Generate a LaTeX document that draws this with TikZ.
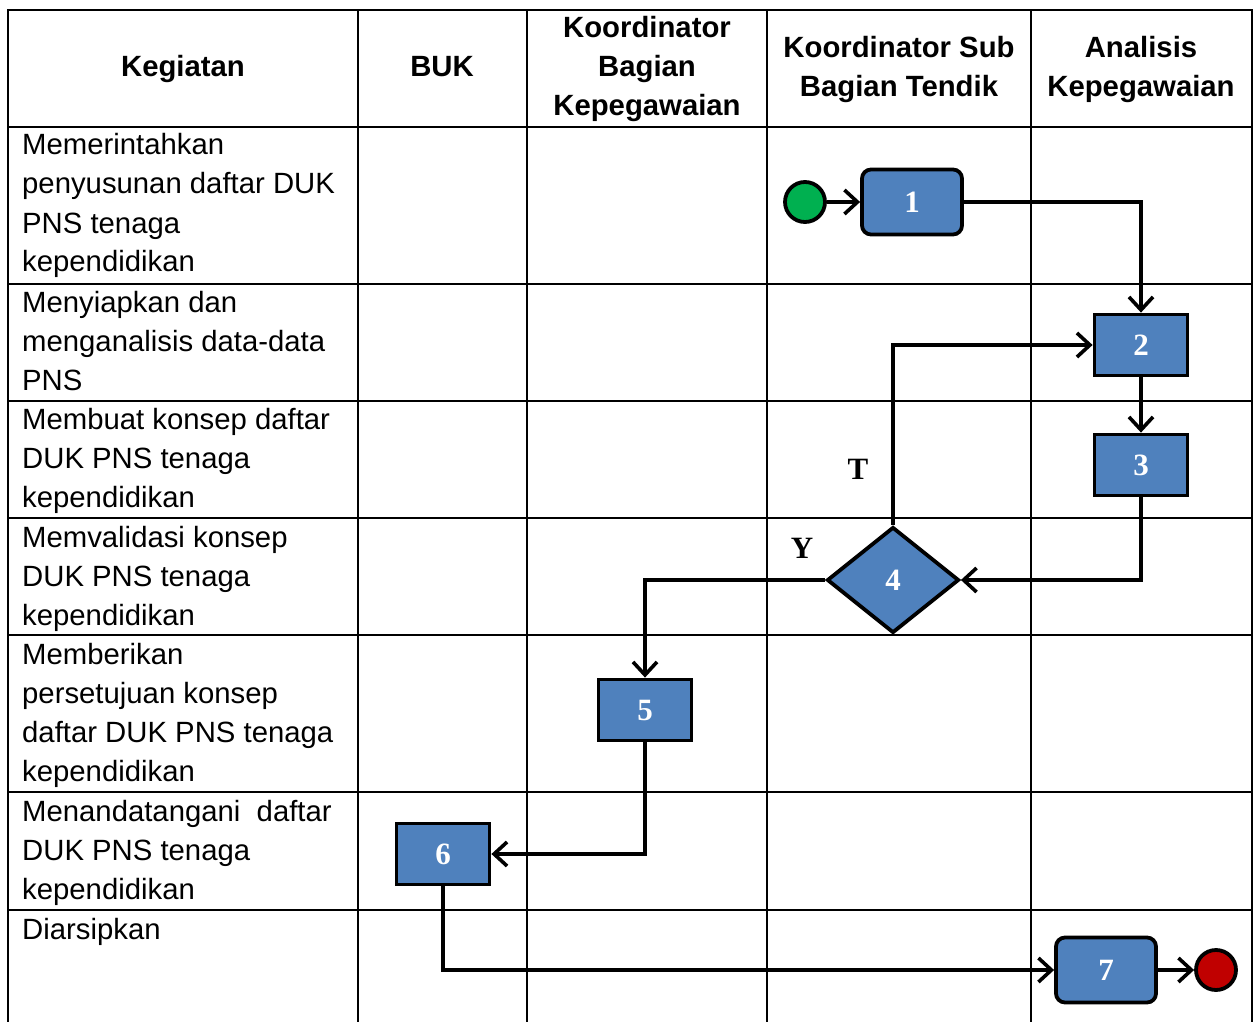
\documentclass[tikz,border=0pt]{standalone}
\usepackage{fontspec}
\setmainfont{Liberation Sans}
\newfontfamily\numfont{Liberation Serif}
\usetikzlibrary{arrows.meta,shapes.geometric}
\definecolor{boxblue}{HTML}{4F81BD}
\definecolor{startgreen}{HTML}{00B050}
\definecolor{endred}{HTML}{C00000}
\begin{document}
\begin{tikzpicture}[x=1pt,y=-1pt,
 grid/.style={line width=2.2pt},
 hdr/.style={font=\fontsize{29.3}{39}\selectfont\bfseries, align=center, inner sep=0},
 act/.style={anchor=base west, inner sep=0, font=\fontsize{29.3}{39}\selectfont},
 proc/.style={draw, line width=3.8pt, fill=boxblue, minimum width=93pt, minimum height=61pt, font=\numfont\fontsize{31}{31}\selectfont\bfseries, text=white, inner sep=0},
 rproc/.style={proc, rounded corners=9pt, minimum width=100pt, minimum height=65pt},
 dec/.style={diamond, draw, line width=3.8pt, fill=boxblue, minimum width=132pt, minimum height=106pt, shape aspect=1.245, inner sep=0, font=\numfont\fontsize{31}{31}\selectfont\bfseries, text=white},
 term/.style={circle, draw, line width=3.8pt, minimum size=40pt, inner sep=0},
 flow/.style={line width=3.6pt, -{Straight Barb[length=13pt,width=24pt]}},
 lbl/.style={font=\numfont\fontsize{31}{31}\selectfont\bfseries, inner sep=0}
]
\useasboundingbox (0,0) rectangle (1256,1022);
% table
\draw[grid] (8,1022) -- (8,10) -- (1252,10) -- (1252,1022);
\foreach \xx in {358,527,767,1031} \draw[grid] (\xx,10) -- (\xx,1022);
\foreach \yy in {127,284,401,518,635,792,910} \draw[grid] (8,\yy) -- (1252,\yy);
% headers
\node[hdr] (h1) at (183,69) {Kegiatan};
\node[hdr] (h2) at (442,67) {BUK};
\node[hdr] (h3) at (647,69) {Koordinator\\Bagian\\Kepegawaian};
\node[hdr] (h4) at (899,69) {Koordinator Sub\\Bagian Tendik};
\node[hdr] (h5) at (1141,69) {Analisis\\Kepegawaian};
% activities
\node[act] (a1) at (22,155) {\parbox[t]{345pt}{Memerintahkan\\penyusunan daftar DUK\\PNS tenaga\\kependidikan}};
\node[act] (a2) at (22,312) {\parbox[t]{345pt}{Menyiapkan dan\\menganalisis data-data\\PNS}};
\node[act] (a3) at (22,429) {\parbox[t]{345pt}{Membuat konsep daftar\\DUK PNS tenaga\\kependidikan}};
\node[act] (a4) at (22,547) {\parbox[t]{345pt}{Memvalidasi konsep\\DUK PNS tenaga\\kependidikan}};
\node[act] (a5) at (22,664) {\parbox[t]{345pt}{Memberikan\\persetujuan konsep\\daftar DUK PNS tenaga\\kependidikan}};
\node[act] (a6) at (22,821) {\parbox[t]{345pt}{Menandatangani~ daftar\\DUK PNS tenaga\\kependidikan}};
\node[act] (a7) at (22,939) {Diarsipkan};
% flow nodes
\node[term, fill=startgreen] (s) at (805,202) {};
\node[rproc] (n1) at (912,202) {1};
\node[proc] (n2) at (1141,345) {2};
\node[proc] (n3) at (1141,465) {3};
\node[dec] (n4) at (893,580) {4};
\node[proc] (n5) at (645,710) {5};
\node[proc] (n6) at (443,854) {6};
\node[rproc] (n7) at (1106,970) {7};
\node[term, fill=endred] (e) at (1216,970) {};
% connectors
\draw[flow] (s) -- (n1);
\draw[flow] (n1.east) -| (n2.north);
\draw[flow] (n2) -- (n3);
\draw[flow] (n3.south) |- (n4.east);
\draw[flow] (n4.north) |- (n2.west);
\draw[flow] (n4.west) -| (n5.north);
\draw[flow] (n5.south) |- (n6.east);
\draw[flow] (n6.south) |- (n7.west);
\draw[flow] (n7) -- (e);
% labels
\node[lbl] (lt) at (858,469) {T};
\node[lbl] (ly) at (802,548) {Y};
\end{tikzpicture}
\end{document}
